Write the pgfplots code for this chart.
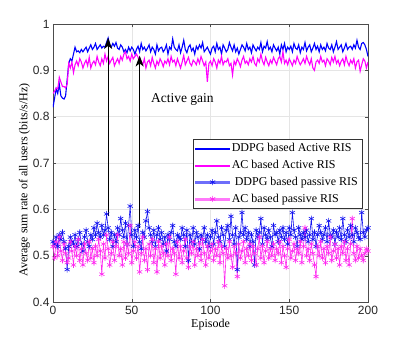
\documentclass[border=0pt]{standalone}
\usepackage{pgfplots}
\pgfplotsset{compat=1.18}
\usepackage{pgfplotstable}
\usepackage{fontspec}
\setmainfont{Liberation Serif}
\newfontfamily\tickfont{Liberation Sans}
\usetikzlibrary{arrows.meta}
\definecolor{bl}{RGB}{0,0,255}
\definecolor{mg}{RGB}{255,0,255}
\definecolor{blp}{RGB}{20,20,240}
\definecolor{mgp}{RGB}{255,40,240}
\definecolor{blleg}{RGB}{110,110,250}
\definecolor{mgleg}{RGB}{255,120,250}

\pgfplotstableread[row sep=\\]{
y\\
.820\\ .840\\ .860\\ .850\\ .870\\ .845\\ .840\\ .838\\ .845\\ .880\\
.915\\ .925\\ .920\\ .935\\ .950\\ .940\\ .942\\ .938\\ .945\\ .940\\
.945\\ .950\\ .940\\ .948\\ .955\\ .945\\ .950\\ .958\\ .945\\ .950\\
.955\\ .948\\ .952\\ .950\\ .960\\ .970\\ .955\\ .950\\ .958\\ .952\\
.960\\ .948\\ .945\\ .955\\ .950\\ .940\\ .945\\ .938\\ .950\\ .942\\
.950\\ .945\\ .935\\ .945\\ .952\\ .940\\ .958\\ .945\\ .950\\ .942\\
.948\\ .955\\ .940\\ .950\\ .945\\ .935\\ .955\\ .942\\ .948\\ .950\\
.940\\ .945\\ .955\\ .935\\ .950\\ .945\\ .968\\ .950\\ .945\\ .942\\
.955\\ .938\\ .950\\ .965\\ .945\\ .938\\ .950\\ .955\\ .942\\ .948\\
.935\\ .952\\ .945\\ .955\\ .948\\ .960\\ .940\\ .945\\ .950\\ .942\\
.935\\ .948\\ .952\\ .940\\ .958\\ .945\\ .950\\ .935\\ .955\\ .948\\
.940\\ .945\\ .960\\ .950\\ .942\\ .955\\ .940\\ .948\\ .935\\ .945\\
.955\\ .950\\ .942\\ .958\\ .945\\ .950\\ .938\\ .955\\ .948\\ .942\\
.950\\ .945\\ .960\\ .940\\ .952\\ .948\\ .962\\ .945\\ .950\\ .940\\
.955\\ .948\\ .942\\ .950\\ .935\\ .955\\ .945\\ .958\\ .940\\ .950\\
.945\\ .952\\ .940\\ .958\\ .948\\ .945\\ .955\\ .938\\ .950\\ .945\\
.960\\ .942\\ .950\\ .955\\ .940\\ .948\\ .958\\ .945\\ .952\\ .940\\
.955\\ .945\\ .950\\ .942\\ .958\\ .948\\ .945\\ .955\\ .940\\ .950\\
.962\\ .945\\ .950\\ .955\\ .940\\ .948\\ .958\\ .945\\ .950\\ .952\\
.945\\ .955\\ .948\\ .965\\ .950\\ .945\\ .958\\ .960\\ .955\\ .945\\
.930\\
}\ddpgactive

\pgfplotstableread[row sep=\\]{
y\\
.850\\ .855\\ .862\\ .860\\ .885\\ .875\\ .865\\ .865\\ .862\\ .870\\
.915\\ .905\\ .918\\ .895\\ .912\\ .920\\ .910\\ .925\\ .918\\ .905\\
.915\\ .922\\ .910\\ .928\\ .905\\ .915\\ .920\\ .912\\ .930\\ .918\\
.910\\ .925\\ .915\\ .935\\ .920\\ .930\\ .915\\ .922\\ .928\\ .910\\
.918\\ .925\\ .915\\ .930\\ .922\\ .935\\ .940\\ .925\\ .930\\ .920\\
.935\\ .925\\ .930\\ .935\\ .928\\ .915\\ .920\\ .912\\ .925\\ .905\\
.918\\ .922\\ .910\\ .928\\ .915\\ .905\\ .920\\ .912\\ .925\\ .918\\
.908\\ .920\\ .915\\ .925\\ .912\\ .930\\ .918\\ .922\\ .910\\ .925\\
.915\\ .905\\ .918\\ .932\\ .912\\ .920\\ .928\\ .915\\ .910\\ .922\\
.918\\ .912\\ .925\\ .915\\ .930\\ .920\\ .910\\ .918\\ .875\\ .915\\
.920\\ .910\\ .925\\ .918\\ .905\\ .922\\ .915\\ .930\\ .912\\ .920\\
.918\\ .925\\ .910\\ .915\\ .890\\ .920\\ .912\\ .925\\ .918\\ .908\\
.922\\ .930\\ .915\\ .920\\ .912\\ .925\\ .918\\ .930\\ .915\\ .910\\
.925\\ .918\\ .935\\ .920\\ .912\\ .928\\ .918\\ .910\\ .922\\ .915\\
.928\\ .920\\ .912\\ .925\\ .930\\ .918\\ .940\\ .915\\ .922\\ .912\\
.925\\ .918\\ .910\\ .922\\ .915\\ .930\\ .920\\ .912\\ .918\\ .925\\
.915\\ .930\\ .920\\ .912\\ .925\\ .905\\ .900\\ .918\\ .922\\ .915\\
.930\\ .918\\ .922\\ .910\\ .925\\ .920\\ .912\\ .928\\ .918\\ .930\\
.915\\ .922\\ .910\\ .920\\ .925\\ .912\\ .930\\ .918\\ .910\\ .922\\
.915\\ .925\\ .905\\ .918\\ .922\\ .898\\ .912\\ .925\\ .920\\ .905\\
.918\\
}\acactive

\pgfplotstableread[row sep=\\]{
y\\
.530\\ .525\\ .540\\ .520\\ .545\\ .535\\ .550\\ .530\\ .515\\ .470\\
.520\\ .540\\ .530\\ .525\\ .545\\ .520\\ .535\\ .550\\ .525\\ .510\\
.540\\ .555\\ .530\\ .520\\ .545\\ .535\\ .560\\ .545\\ .570\\ .550\\
.540\\ .565\\ .545\\ .555\\ .590\\ .560\\ .535\\ .550\\ .520\\ .545\\
.530\\ .560\\ .545\\ .580\\ .555\\ .540\\ .570\\ .525\\ .565\\ .607\\
.545\\ .520\\ .555\\ .540\\ .565\\ .530\\ .515\\ .550\\ .540\\ .575\\
.595\\ .560\\ .545\\ .530\\ .555\\ .520\\ .545\\ .560\\ .535\\ .550\\
.525\\ .540\\ .510\\ .545\\ .535\\ .550\\ .565\\ .530\\ .520\\ .545\\
.540\\ .535\\ .560\\ .545\\ .520\\ .555\\ .490\\ .545\\ .530\\ .560\\
.525\\ .550\\ .540\\ .515\\ .545\\ .535\\ .560\\ .530\\ .545\\ .520\\
.540\\ .555\\ .525\\ .550\\ .575\\ .540\\ .530\\ .560\\ .545\\ .520\\
.555\\ .565\\ .535\\ .585\\ .545\\ .525\\ .560\\ .470\\ .540\\ .550\\
.593\\ .545\\ .560\\ .535\\ .550\\ .520\\ .545\\ .530\\ .480\\ .555\\
.540\\ .550\\ .580\\ .525\\ .560\\ .545\\ .535\\ .555\\ .540\\ .520\\
.565\\ .545\\ .550\\ .530\\ .555\\ .540\\ .560\\ .535\\ .550\\ .525\\
.560\\ .545\\ .593\\ .555\\ .540\\ .520\\ .560\\ .545\\ .535\\ .550\\
.540\\ .555\\ .530\\ .545\\ .580\\ .535\\ .550\\ .520\\ .545\\ .565\\
.550\\ .535\\ .545\\ .560\\ .530\\ .575\\ .545\\ .540\\ .555\\ .525\\
.550\\ .540\\ .560\\ .535\\ .580\\ .545\\ .530\\ .555\\ .540\\ .565\\
.545\\ .530\\ .560\\ .550\\ .540\\ .535\\ .593\\ .550\\ .540\\ .555\\
.560\\
}\ddpgpassive

\pgfplotstableread[row sep=\\]{
y\\
.520\\ .495\\ .530\\ .500\\ .540\\ .510\\ .490\\ .525\\ .505\\ .485\\
.495\\ .530\\ .510\\ .480\\ .520\\ .500\\ .535\\ .490\\ .515\\ .480\\
.525\\ .505\\ .490\\ .530\\ .495\\ .515\\ .485\\ .520\\ .500\\ .535\\
.510\\ .460\\ .525\\ .495\\ .545\\ .515\\ .480\\ .505\\ .530\\ .490\\
.520\\ .545\\ .500\\ .515\\ .480\\ .530\\ .495\\ .525\\ .505\\ .565\\
.485\\ .510\\ .530\\ .495\\ .520\\ .465\\ .505\\ .540\\ .490\\ .515\\
.470\\ .525\\ .500\\ .535\\ .485\\ .515\\ .465\\ .530\\ .495\\ .520\\
.505\\ .480\\ .525\\ .500\\ .540\\ .490\\ .515\\ .505\\ .460\\ .530\\
.495\\ .520\\ .485\\ .510\\ .535\\ .495\\ .475\\ .520\\ .505\\ .530\\
.480\\ .515\\ .500\\ .525\\ .490\\ .535\\ .505\\ .480\\ .520\\ .495\\
.510\\ .525\\ .490\\ .515\\ .500\\ .530\\ .485\\ .520\\ .505\\ .435\\
.515\\ .495\\ .530\\ .500\\ .475\\ .520\\ .505\\ .455\\ .525\\ .495\\
.510\\ .530\\ .485\\ .515\\ .500\\ .525\\ .490\\ .520\\ .505\\ .480\\
.515\\ .540\\ .495\\ .520\\ .485\\ .510\\ .530\\ .495\\ .515\\ .500\\
.525\\ .490\\ .515\\ .505\\ .530\\ .485\\ .520\\ .500\\ .475\\ .515\\
.535\\ .495\\ .510\\ .525\\ .490\\ .515\\ .505\\ .530\\ .485\\ .520\\
.560\\ .500\\ .515\\ .490\\ .525\\ .505\\ .480\\ .455\\ .520\\ .500\\
.530\\ .495\\ .515\\ .485\\ .520\\ .505\\ .540\\ .490\\ .510\\ .525\\
.495\\ .515\\ .480\\ .520\\ .505\\ .530\\ .490\\ .515\\ .480\\ .525\\
.580\\ .505\\ .490\\ .520\\ .495\\ .515\\ .500\\ .490\\ .505\\ .515\\
.510\\
}\acpassive

\begin{document}
\begin{tikzpicture}
\useasboundingbox (-53pt,-37pt) rectangle (354pt,302pt);
\begin{axis}[
  at={(0,0)}, anchor=south west,
  scale only axis, width=315pt, height=278pt,
  xmin=0, xmax=200, ymin=0.4, ymax=1,
  xtick={0,50,100,150,200},
  ytick={0.4,0.5,0.6,0.7,0.8,0.9,1},
  yticklabels={0.4,0.5,0.6,0.7,0.8,0.9,1},
  grid=major,
  grid style={gray!20, line width=0.4pt},
  axis line style={gray!60!black, line width=0.5pt},
  tick style={gray!60!black},
  tick align=inside,
  major tick length=3pt,
  /pgf/number format/assume math mode=true,
  ticklabel style={font=\tickfont\fontsize{12}{14}\selectfont, text=black!85},
  xticklabel style={yshift=-1pt},
  label style={font=\fontsize{12}{14}\selectfont},
  xlabel={Episode},
  ylabel={Average sum rate of all users (bits/s/Hz)},
  xlabel style={yshift=3pt},
  ylabel style={yshift=-4pt, xshift=-17pt},
  legend style={at={(0.981,0.585)}, anchor=north east,
    font=\fontsize{12}{13}\selectfont, draw=black!80, fill=white,
    row sep=3pt, inner xsep=2pt, inner ysep=2pt},
  legend cell align=left,
]
\addlegendimage{legend image code/.code={\fill[bl] (0pt,-0.6pt) rectangle (34pt,0.6pt);}}
\addlegendentry{DDPG based Active RIS}
\addlegendimage{legend image code/.code={\fill[mg] (0pt,-0.6pt) rectangle (34pt,0.6pt);}}
\addlegendentry{AC based Active RIS}
\addlegendimage{legend image code/.code={\fill[blleg] (0pt,-0.8pt) rectangle (34pt,0.8pt);
  \draw[blp, line width=0.7pt] (17pt,-3pt) -- (17pt,3pt) (14.4pt,-1.5pt) -- (19.6pt,1.5pt) (14.4pt,1.5pt) -- (19.6pt,-1.5pt);}}
\addlegendentry{\ DDPG based passive RIS}
\addlegendimage{legend image code/.code={\fill[mgleg] (0pt,-0.8pt) rectangle (34pt,0.8pt);
  \draw[mgp, line width=0.7pt] (17pt,-3pt) -- (17pt,3pt) (14.4pt,-1.5pt) -- (19.6pt,1.5pt) (14.4pt,1.5pt) -- (19.6pt,-1.5pt);}}
\addlegendentry{AC based passive RIS}
\addplot[forget plot, bl, line width=1.1pt, mark=none] table[x expr=\coordindex, y=y] {\ddpgactive};
\addplot[forget plot, mg, line width=1.1pt, mark=none] table[x expr=\coordindex, y=y] {\acactive};
\addplot[forget plot, blp, line width=0.6pt, mark=asterisk, mark size=3pt, mark options={line width=0.6pt}] table[x expr=\coordindex, y=y] {\ddpgpassive};
\addplot[forget plot, mgp, line width=0.6pt, mark=asterisk, mark size=3pt, mark options={line width=0.6pt}] table[x expr=\coordindex, y=y] {\acpassive};
\draw[black, line width=1pt, -{Stealth[length=11pt, width=8pt, inset=3pt]}] (axis cs:35,0.585) -- (axis cs:35,0.970);
\draw[black, line width=1pt, -{Stealth[length=11pt, width=8pt, inset=3pt]}] (axis cs:55,0.560) -- (axis cs:55,0.932);
\node[anchor=west, font=\fontsize{13.5}{15}\selectfont] at (axis cs:60,0.836) {Active gain};
\end{axis}
\end{tikzpicture}
\end{document}
